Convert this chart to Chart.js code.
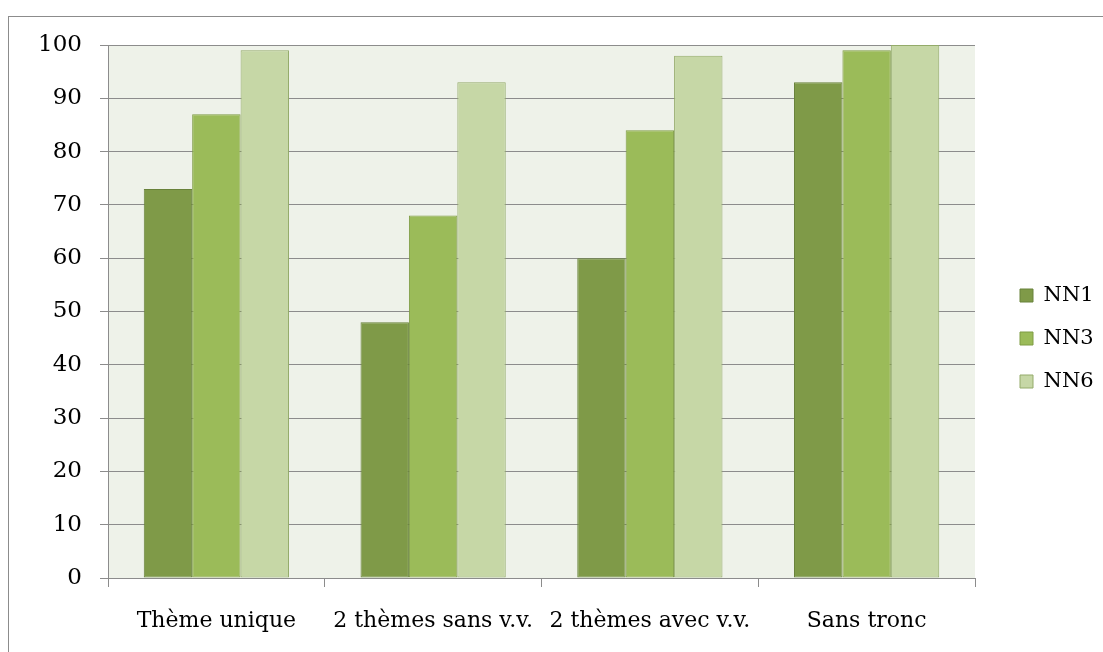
<!DOCTYPE html>
<html>
<head>
<meta charset="utf-8">
<script src="https://cdn.jsdelivr.net/npm/chart.js@4/dist/chart.umd.min.js"></script>
<style>
    html, body { margin: 0; padding: 0; background: #fff; }
    #frame {
        position: absolute; left: 8px; top: 16px;
        width: 1120px; height: 660px;
        border: 1px solid #8c8c8c;
    }
    #wrap { position: absolute; left: 0; top: 0; width: 1103px; height: 652px; }
</style>
</head>
<body>
<div id="frame"></div>
<div id="wrap"><canvas id="chart" width="1103" height="652"></canvas></div>
<script>
// Chart data
const categories = ['Thème unique', '2 thèmes sans v.v.', '2 thèmes avec v.v.', 'Sans tronc'];
const nn1 = [73, 48, 60, 93];
const nn3 = [87, 68, 84, 99];
const nn6 = [99, 93, 98, 100];

const serif = 'DejaVu Serif';

// Fill the plot area background
const plotBackground = {
    id: 'plotBackground',
    beforeDraw(chart) {
        const { ctx, chartArea } = chart;
        ctx.save();
        ctx.fillStyle = '#eef2e9';
        ctx.fillRect(chartArea.left, chartArea.top, chartArea.right - chartArea.left, chartArea.bottom - chartArea.top);
        ctx.restore();
    }
};

// Push the legend away from the plot and lift it a little
const legendShift = {
    id: 'legendShift',
    afterLayout(chart) {
        const lg = chart.legend;
        const dx = 1020 - (lg.left + lg.options.labels.padding);
        lg.left += dx;
        lg.right += dx;
        lg.top -= 10;
        lg.bottom -= 10;
    }
};

new Chart(document.getElementById('chart'), {
    type: 'bar',
    data: {
        labels: categories,
        datasets: [
            {
                label: 'NN1',
                data: nn1,
                backgroundColor: '#7f9a48',
                borderColor: '#68823a',
                borderWidth: 1,
                borderSkipped: false
            },
            {
                label: 'NN3',
                data: nn3,
                backgroundColor: '#9bbb59',
                borderColor: '#7f9c45',
                borderWidth: 1,
                borderSkipped: false
            },
            {
                label: 'NN6',
                data: nn6,
                backgroundColor: '#c6d7a6',
                borderColor: '#94ab6a',
                borderWidth: 1,
                borderSkipped: false
            }
        ]
    },
    options: {
        responsive: false,
        animation: false,
        layout: { padding: { left: 0, top: 45, right: 28, bottom: 0 } },
        categoryPercentage: 0.67,
        barPercentage: 1,
        plugins: {
            tooltip: { enabled: false },
            legend: {
                position: 'right',
                maxWidth: 100,
                labels: {
                    boxWidth: 13,
                    boxHeight: 13,
                    padding: 22,
                    color: '#000',
                    font: { family: serif, size: 21 }
                }
            }
        },
        scales: {
            x: {
                grid: {
                    drawOnChartArea: false,
                    tickLength: 9,
                    color: '#8c8c8c'
                },
                border: { color: '#8c8c8c' },
                ticks: {
                    color: '#000',
                    padding: 21,
                    maxRotation: 0,
                    font: { family: serif, size: 22 }
                },
                afterFit(scale) { scale.height = 74; }
            },
            y: {
                min: 0,
                max: 100,
                grid: {
                    color: '#8c8c8c',
                    tickLength: 8
                },
                border: { color: '#8c8c8c' },
                ticks: {
                    stepSize: 10,
                    color: '#000',
                    padding: 18,
                    font: { family: serif, size: 23 }
                },
                afterFit(scale) { scale.width = 108; }
            }
        }
    },
    plugins: [plotBackground, legendShift]
});
</script>
</body>
</html>
